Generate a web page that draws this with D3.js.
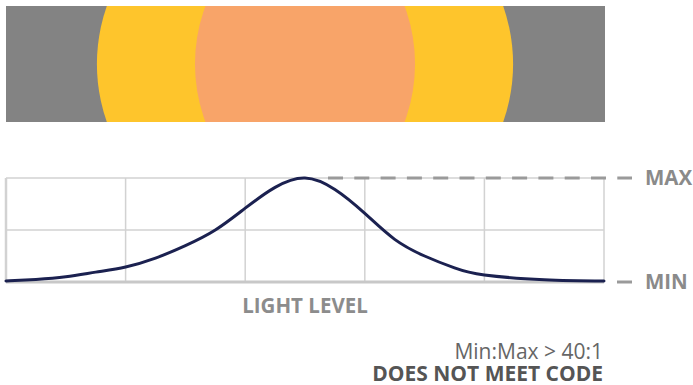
<!DOCTYPE html>
<html>
<head>
<meta charset="utf-8">
<script src="https://cdn.jsdelivr.net/npm/d3@7"></script>
<style>
  html, body { margin: 0; padding: 0; background: #fff; }
  svg { display: block; font-family: "Open Sans", sans-serif; }
</style>
</head>
<body>
<svg id="chart" width="693" height="385"></svg>
<script>
// ---- data ----
const columns = [0, 1, 2, 3, 4, 5];                 // grid columns (position along floor)
const gridLevels = [0, 0.5, 1];                     // horizontal grid lines
const lightX = [0, 0.25, 0.5, 0.75, 1, 1.25, 1.5, 1.75, 2, 2.25, 2.5, 2.75, 3, 3.25, 3.5, 3.75, 4, 4.5, 5];
const lightLevel = [0.01, 0.025, 0.05, 0.095, 0.145, 0.23, 0.35, 0.5, 0.71, 0.91, 1.0, 0.89, 0.66, 0.41, 0.25, 0.135, 0.067, 0.022, 0.01];
const poolCenter = 2.5;
const poolNames = ["outer", "inner"];
const poolHalfWidths = [1.74, 0.92];
const levelLabels = ["MAX", "MIN"];
const levelValues = [1, 0];
const axisTitle = "LIGHT LEVEL";
const ratioText = "Min:Max > 40:1";
const verdictText = "DOES NOT MEET CODE";

// ---- layout ----
const svg = d3.select("#chart");
const plot = { left: 6, right: 604, top: 178, bottom: 282 };
const x = d3.scaleLinear().domain([0, 5]).range([plot.left, plot.right]);
const y = d3.scaleLinear().domain([0, 1]).range([plot.bottom, plot.top]);

// ---- top panel: light pool ----
const panel = { x: 6, y: 6, w: 599, h: 116 };
const poolColors = ["#FEC52C", "#F8A469"];
const poolRy = [190, 136];
svg.append("clipPath").attr("id", "panelClip")
  .append("rect").attr("x", panel.x).attr("y", panel.y).attr("width", panel.w).attr("height", panel.h);
const g0 = svg.append("g").attr("clip-path", "url(#panelClip)");
g0.append("rect").attr("x", panel.x).attr("y", panel.y).attr("width", panel.w).attr("height", panel.h).attr("fill", "#838383");
g0.selectAll("ellipse.pool").data(poolNames).join("ellipse")
  .attr("class", "pool")
  .attr("cx", x(poolCenter))
  .attr("cy", panel.y + panel.h / 2)
  .attr("rx", (d, i) => x(poolHalfWidths[i]) - x(0))
  .attr("ry", (d, i) => poolRy[i])
  .attr("fill", (d, i) => poolColors[i]);

// ---- grid ----
const g = svg.append("g");
g.selectAll("line.v").data(columns).join("line")
  .attr("class", "v")
  .attr("x1", d => x(d)).attr("x2", d => x(d))
  .attr("y1", plot.top).attr("y2", plot.bottom)
  .attr("stroke", "#d2d2d2").attr("stroke-width", d => d === 0 ? 2.5 : 1.5);
g.selectAll("line.h").data(gridLevels).join("line")
  .attr("class", "h")
  .attr("x1", plot.left).attr("x2", plot.right)
  .attr("y1", d => y(d)).attr("y2", d => y(d))
  .attr("stroke", d => d === 0 ? "#c8c8c8" : "#d2d2d2")
  .attr("stroke-width", d => d === 0 ? 3 : 1.5);

// ---- max dashed line ----
const peakIdx = d3.maxIndex(lightLevel);
g.append("line")
  .attr("x1", x(lightX[peakIdx]) + 23).attr("x2", 632)
  .attr("y1", y(1)).attr("y2", y(1))
  .attr("stroke", "#9a9a9a").attr("stroke-width", 3)
  .attr("stroke-dasharray", "15,11.3");
g.append("line")
  .attr("x1", 617).attr("x2", 632)
  .attr("y1", y(0)).attr("y2", y(0))
  .attr("stroke", "#9a9a9a").attr("stroke-width", 3);

// ---- curve ----
const pts = lightX.map((v, i) => [v, lightLevel[i]]);
g.append("path")
  .datum(pts)
  .attr("fill", "none")
  .attr("stroke", "#1B2150")
  .attr("stroke-width", 3)
  .attr("stroke-linecap", "round")
  .attr("d", d3.line().x(d => x(d[0])).y(d => y(d[1])).curve(d3.curveNatural));

// ---- labels ----
svg.selectAll("text.lvl").data(levelLabels).join("text")
  .attr("class", "lvl")
  .attr("x", 645)
  .attr("y", (d, i) => y(levelValues[i]))
  .attr("dy", "0.36em")
  .attr("font-size", 20.5).attr("font-weight", 700)
  .attr("fill", "#8a8a8a")
  .text(d => d);

svg.append("text")
  .attr("x", x(poolCenter)).attr("y", 313)
  .attr("text-anchor", "middle")
  .attr("font-size", 20.5).attr("font-weight", 700)
  .attr("fill", "#8c8c8c")
  .text(axisTitle);

svg.append("text")
  .attr("x", 603).attr("y", 359)
  .attr("text-anchor", "end")
  .attr("font-size", 21).attr("font-weight", 400)
  .attr("fill", "#666")
  .text(ratioText);

svg.append("text")
  .attr("x", 603).attr("y", 381)
  .attr("text-anchor", "end")
  .attr("font-size", 21).attr("font-weight", 700)
  .attr("fill", "#555")
  .text(verdictText);
</script>
</body>
</html>
